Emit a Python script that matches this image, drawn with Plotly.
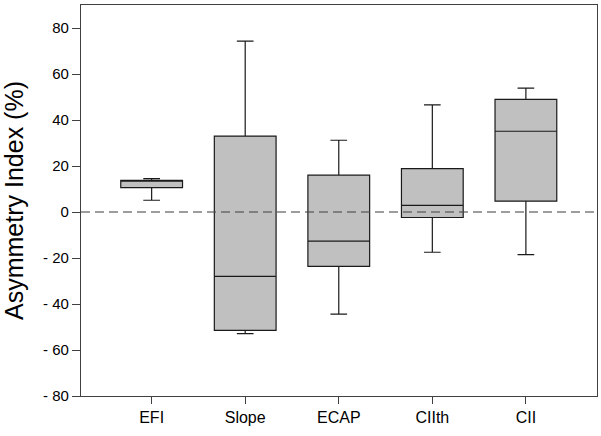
import plotly.graph_objects as go

categories = ["EFI", "Slope", "ECAP", "CIIth", "CII"]
lower_whisker = [5.1, -52.9, -44.4, -17.5, -18.5]
q1_values = [10.6, -51.5, -23.6, -2.4, 4.7]
medians = [13.5, -28.0, -12.7, 2.9, 35.1]
q3_values = [13.8, 33.0, 16.0, 18.9, 49.0]
upper_whisker = [14.5, 74.3, 31.2, 46.6, 53.9]

y_tick_values = [-80, -60, -40, -20, 0, 20, 40, 60, 80]
y_tick_labels = ["- 80", "- 60", "- 40", "- 20", "0", "20", "40", "60", "80"]

positions = list(range(len(categories)))

fig = go.Figure()
fig.add_trace(go.Box(
    x=positions,
    q1=q1_values,
    median=medians,
    q3=q3_values,
    lowerfence=lower_whisker,
    upperfence=upper_whisker,
    width=0.66,
    whiskerwidth=0.27,
    fillcolor="#c0c0c0",
    line=dict(color="#1a1a1a", width=1.2),
    boxpoints=False,
    showlegend=False,
    hoverinfo="skip",
))

fig.add_shape(type="line", xref="paper", yref="y", x0=0, x1=1, y0=0, y1=0,
              layer="above", line=dict(color="rgba(70,70,70,0.7)", width=1.3, dash="9px,5px"))

font_family = "Liberation Sans, Arial, sans-serif"
fig.update_layout(
    width=601, height=436,
    margin=dict(l=81, r=4, t=5, b=40),
    paper_bgcolor="white", plot_bgcolor="white",
    font=dict(family=font_family, color="black"),
    xaxis=dict(
        range=[-0.755, 4.76],
        tickvals=positions, ticktext=categories,
        ticks="outside", ticklen=7, tickcolor="#404040",
        tickfont=dict(size=16, color="black"),
        showgrid=False, zeroline=False, automargin=False,
        showline=True, linecolor="#404040", linewidth=1.2, mirror=True,
    ),
    yaxis=dict(
        range=[-80, 90],
        tickvals=y_tick_values, ticktext=y_tick_labels,
        ticks="outside", ticklen=8, tickcolor="#404040",
        tickfont=dict(size=15, color="black"),
        showgrid=False, zeroline=False, automargin=False,
        showline=True, linecolor="#404040", linewidth=1.2, mirror=True,
        title=dict(text="Asymmetry Index (%)", font=dict(size=25, color="black"), standoff=12),
    ),
)

fig.write_html(
    "out.html",
    config={"displayModeBar": False},
    post_script="document.body.style.margin='0';document.body.style.overflow='hidden';",
)
